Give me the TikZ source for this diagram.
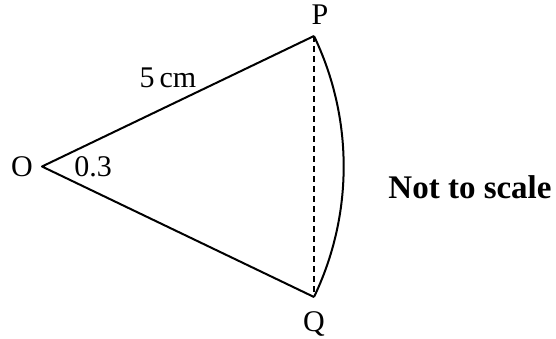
\documentclass[tikz,border=0pt]{standalone}
\usepackage{fontspec}
\setmainfont{Liberation Serif}
\begin{document}
\begin{tikzpicture}[x=1pt,y=1pt,
  edge/.style={line width=2pt, line join=round},
  chord/.style={line width=2pt, dash pattern=on 6pt off 4pt},
  lbl/.style={font=\fontsize{30}{34}\selectfont, inner sep=0pt}]
\useasboundingbox (0,0) rectangle (556,338);
\coordinate (O) at (42,171.5);
\coordinate (P) at (314,302);
\coordinate (Q) at (314,41);
\draw[edge] (P) -- (O) -- (Q);
\draw[edge] (P) arc[start angle=25.63, end angle=-25.63, radius=301.7];
\draw[chord] (P) -- (Q);
\node[lbl] (lO) at (22,171) {O};
\node[lbl] (l03) at (93,171) {0.3};
\node[lbl] (lP) at (320,323) {P};
\node[lbl] (lQ) at (314,14) {Q};
\node[lbl] (l5) at (168,260) {5\,cm};
\node[font=\fontsize{33}{36}\selectfont\bfseries, inner sep=0pt] (nts) at (470,151) {Not to scale};
\end{tikzpicture}
\end{document}
